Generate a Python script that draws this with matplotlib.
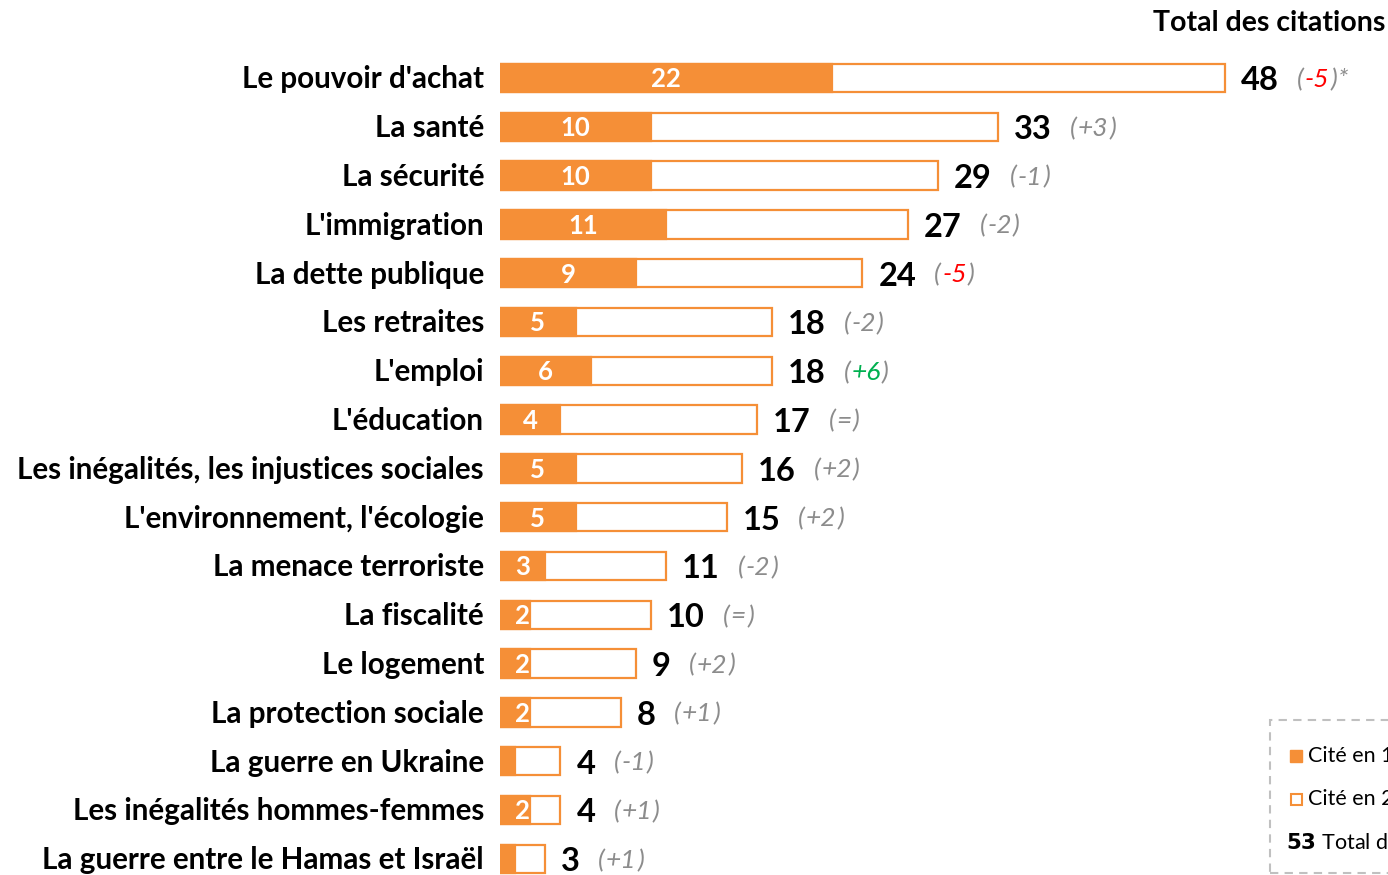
import matplotlib.pyplot as plt
from matplotlib.patches import Rectangle

# Data
categories = ["Le pouvoir d'achat", "La santé", "La sécurité", "L'immigration",
              "La dette publique", "Les retraites", "L'emploi", "L'éducation",
              "Les inégalités, les injustices sociales", "L'environnement, l'écologie",
              "La menace terroriste", "La fiscalité", "Le logement",
              "La protection sociale", "La guerre en Ukraine",
              "Les inégalités hommes-femmes", "La guerre entre le Hamas et Israël"]
first_cited = [22, 10, 10, 11, 9, 5, 6, 4, 5, 5, 3, 2, 2, 2, 1, 2, 1]
total_cited = [48, 33, 29, 27, 24, 18, 18, 17, 16, 15, 11, 10, 9, 8, 4, 4, 3]
changes = ["-5", "+3", "-1", "-2", "-5", "-2", "+6", "=", "+2", "+2",
           "-2", "=", "+2", "+1", "-1", "+1", "+1"]
change_colors = {0: "#ff0000", 4: "#ff0000", 6: "#00b050"}

orange = "#f58f37"
grey = "#8c8c8c"
plt.rcParams['font.family'] = ['Lato', 'DejaVu Sans']

W, H = 1388, 875
fig = plt.figure(figsize=(W / 100, H / 100), dpi=100)
x0 = 500
px_per_unit = 15.1
row0, row_step = 78, 48.8
ax = fig.add_axes([x0 / W, 0, (W - x0) / W, 1])
ax.set_xlim(0, (W - x0) / px_per_unit)
ax.set_ylim((H - row0) / row_step, -row0 / row_step)
ax.axis('off')

bar_h = 0.58
y = list(range(len(categories)))
ax.barh(y, total_cited, height=bar_h, color="white", edgecolor=orange, linewidth=1.6)
ax.barh(y, first_cited, height=bar_h, color=orange, edgecolor=orange, linewidth=1.6)

fig.canvas.draw()
renderer = fig.canvas.get_renderer()
inv = ax.transData.inverted()

for i, (cat, f, t, ch) in enumerate(zip(categories, first_cited, total_cited, changes)):
    ax.text(-16 / px_per_unit, i + 0.03, cat, ha='right', va='center', fontsize=21.3,
            fontweight='bold', color='black')
    if f >= 2:
        ax.text(f / 2 + (0.5 if f <= 2 else 0), i + 0.03, str(f), ha='center', va='center',
                fontsize=18.5, fontweight='bold', color='white')
    tt = ax.text(t + 16 / px_per_unit, i + 0.06, str(t), ha='left', va='center', fontsize=23.5,
                 fontweight='bold', color='black')
    bb = tt.get_window_extent(renderer)
    xx = inv.transform((bb.x1 + 18, 0))[0]
    # change annotation pieces: "(" + value + ")"
    pieces = [("(", grey), (ch, change_colors.get(i, grey)), (")", grey)]
    if i == 0:
        pieces.append(("*", grey))
    for s, c in pieces:
        p = ax.text(xx, i + 0.03, s, ha='left', va='center', fontsize=19,
                    style='italic', color=c)
        pb = p.get_window_extent(renderer)
        xx = inv.transform((pb.x1 + 1, 0))[0]

fig.text(1385 / W, 1 - 23 / H, "Total des citations", ha='right', va='center',
         fontsize=20.5, fontweight='bold')

# legend box (clipped at the right edge, as in the reference)
fig.patches.append(Rectangle((1270 / W, 0.002), 200 / W, (875 - 722) / H,
                             transform=fig.transFigure, fill=False,
                             edgecolor="#c0c0c0", linestyle=(0, (4, 3)), linewidth=1.5))
fig.patches.append(Rectangle((1290 / W, 1 - 762 / H), 12 / W, 12 / H,
                             transform=fig.transFigure, facecolor=orange, edgecolor=orange))
fig.patches.append(Rectangle((1291 / W, 1 - 805 / H), 11 / W, 11 / H,
                             transform=fig.transFigure, facecolor="white",
                             edgecolor=orange, linewidth=1.5))
fig.text(1308 / W, 1 - 756 / H, "Cité en 1er", ha='left', va='center', fontsize=15.5)
fig.text(1308 / W, 1 - 799 / H, "Cité en 2ème", ha='left', va='center', fontsize=15.5)
fig.text(1286 / W, 1 - 843 / H, r"$\bf{53}$ Total des citations", ha='left', va='center',
         fontsize=15.5)

fig.savefig("out.png", dpi=100)
